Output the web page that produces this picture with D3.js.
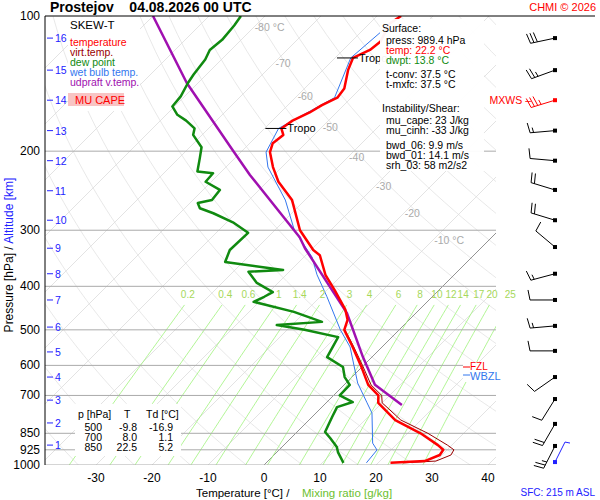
<!DOCTYPE html>
<html><head><meta charset="utf-8">
<script src="https://cdn.jsdelivr.net/npm/d3@7"></script>
<style>body{margin:0;background:#fff}text{font-family:Arial,"Liberation Sans",sans-serif}</style>
</head><body><svg id="c" width="600" height="500"></svg>
<script>
const pTicks=[100,200,300,400,500,600,700,850,925,1000];
const tTicks=[-30,-20,-10,0,10,20,30,40];
const kmLabels=[1,2,3,4,5,6,7,8,9,10,11,12,13,14,15,16];
const kmP=[903,806,717,637,560,493,429,375,329,285,245,210,180,154,132,112];
const mixRatios=[0.2,0.4,0.6,1,1.4,2,3,4,6,8,10,12,14,17,20,25];
const isoLabelT=[-80,-70,-60,-50,-40,-30,-20,-10];
const isoLabelP=[106,127,151,177,206,239,275,315];
const tempP=[989,980,950,925,903,850,794,727,700,663,600,541,500,475,451,408,377,341,332,300,257,234,217,201,192,184,178,171,164,158,152,145,132,124,119,114,104,100];
const tempT=[22.2,28.0,29.6,29.3,27.5,22.3,15.4,9.3,8.0,4.3,-0.5,-5.7,-9.8,-11,-13.2,-18.6,-23,-27.5,-29.6,-35.5,-42.3,-48,-51.6,-54.8,-55.9,-55.5,-57,-56.4,-54.8,-53.9,-52.5,-52.9,-55.5,-56.8,-55.2,-54.8,-56.4,-55.7];
const virtP=[989,980,950,925,903,850,794,727,700,663,600,541,500];
const virtT=[24.5,30.0,31.6,31.2,29.2,23.6,16.4,10.0,8.6,4.8,-0.2,-5.5,-9.7];
const dewP=[989,936,912,871,844,782,743,724,700,663,637,605,575,519,500,488,480,456,433,422,412,393,371,368,353,332,304,288,275,268,261,257,244,234,224,222,207,196,184,178,171,166,159,151,141,135,125,119,113,105,100];
const dewT=[13.8,10.9,9.8,7.0,5.0,3.6,2.7,4.6,1.1,1.0,-1.3,-3.4,-8.0,-9.6,-16.9,-22.7,-15.2,-22,-31,-30,-29.3,-33.8,-37.3,-31.4,-43.2,-44.5,-44.3,-48.9,-54,-57.3,-58.6,-56.6,-57,-61,-61.2,-64.3,-66.3,-67.9,-71.6,-72.5,-75.4,-78,-80.4,-80.7,-81.8,-82.3,-82.9,-83.8,-83.4,-83.8,-84.3];
const wbP=[989,926,894,766,727,657,546,500,422,377,344,300,257,217,201,178,152,124,100];
const wbT=[17.9,17.5,15.5,10,7.3,2.1,-5.7,-10.5,-18.8,-24.5,-28.6,-36.5,-43.5,-52.5,-55.5,-57.5,-53,-57.2,-56];
const parP=[735,663,575,493,459,329,311,226,199,141,100];
const parT=[13.9,5.5,-1.6,-8.9,-12.3,-31.4,-34.3,-54.3,-61.8,-82,-100];
const windP=[112,132,154,180,210,244,285,327,375,429,490,557,637,713,810,907];
const windDir=[258,250,253,265,275,287,287,310,255,270,265,270,235,212,210,207];
const windKt=[30,25,35,15,10,20,20,10,15,10,15,10,10,10,20,25];
const tropoP=[178,124];

const svg=d3.select("#c");
const X0=45,X1=496,Y0=16,Y1=465;
const y=d3.scaleLog().domain([1000,100]).range([Y1,Y0]);
const xT=d3.scaleLinear().domain([0,10]).range([264,320]);
const X=(T,p)=>xT(T)+(Y1-y(p));
svg.append("clipPath").attr("id","cl").append("rect").attr("x",X0).attr("y",Y0).attr("width",X1-X0).attr("height",Y1-Y0);
const g=svg.append("g").attr("clip-path","url(#cl)");
const line=d3.line().x(d=>X(d[1],d[0])).y(d=>y(d[0]));
const pr=d3.range(1000,99,-10);
for(let th=240;th<=480;th+=10){
 g.append("path").attr("d",line(pr.map(p=>[p,th*Math.pow(p/1000,0.286)-273.15]))).attr("fill","none").attr("stroke","#dedede").attr("stroke-width",0.7);
}
for(let T=-130;T<=40;T+=10){
 g.append("line").attr("x1",X(T,1000)).attr("y1",y(1000)).attr("x2",X(T,100)).attr("y2",y(100)).attr("stroke",T==0?"#777":"#dcdcdc").attr("stroke-width",0.8);
}
const mr=d3.range(1000,439,-10);
const tdOf=(w,p)=>{const e=w*p/(622+w);const l=Math.log(e/6.112);return 243.5*l/(17.67-l);};
mixRatios.forEach(w=>{
 g.append("path").attr("d",line(mr.map(p=>[p,tdOf(w,p)]))).attr("fill","none").attr("stroke","#9ef27a").attr("stroke-width",0.8);
 svg.append("text").attr("x",X(tdOf(w,430),430)).attr("y",298).attr("text-anchor","middle").attr("font-size",10).attr("fill","#a6d85a").text(w);
});
pTicks.forEach(p=>{ if(p>100) g.append("line").attr("x1",X0).attr("x2",X1).attr("y1",y(p)).attr("y2",y(p)).attr("stroke","#aaa").attr("stroke-width",1);
 svg.append("text").attr("x",40).attr("y",y(p)+4).attr("text-anchor","end").attr("font-size",12).text(p);});
isoLabelT.forEach((T,i)=>{const p=isoLabelP[i];
 g.append("text").attr("x",X(T,p)+1).attr("y",y(p)+4).attr("font-size",10.5).attr("fill","#aaa").text(T==-80||T==-10?T+" °C":T);});
svg.append("line").attr("x1",X0).attr("x2",595).attr("y1",Y0).attr("y2",Y0).attr("stroke","#000");
svg.append("line").attr("x1",X0).attr("x2",X0).attr("y1",Y0).attr("y2",Y1).attr("stroke","#000");
tTicks.forEach(T=>svg.append("text").attr("x",xT(T)).attr("y",482).attr("text-anchor","middle").attr("font-size",12).text(T));
kmLabels.forEach((k,i)=>{const yy=y(kmP[i]);
 svg.append("line").attr("x1",47).attr("x2",53).attr("y1",yy).attr("y2",yy).attr("stroke","#22f");
 svg.append("text").attr("x",55).attr("y",yy+4).attr("font-size",10.5).attr("fill","#22f").text(k);});
const z=(a,b)=>a.map((p,i)=>[p,b[i]]);
const prof=(P,T,c,w)=>g.append("path").attr("d",line(z(P,T))).attr("fill","none").attr("stroke",c).attr("stroke-width",w).attr("stroke-linejoin","round");
prof(wbP,wbT,"#3377ee",1);
prof(virtP,virtT,"#990000",1);
prof(parP,parT,"#a010b0",2.5);
prof(dewP,dewT,"#108a10",2.5);
prof(tempP,tempT,"#ff0000",2.5);
tropoP.forEach(p=>{const t=tempT[tempP.indexOf(p)];const xx=X(t,p);
 g.append("line").attr("x1",xx-16).attr("x2",xx+5).attr("y1",y(p)).attr("y2",y(p)).attr("stroke","#000");
 g.append("text").attr("x",xx+6).attr("y",y(p)+4).attr("font-size",11).text("Tropo");});
svg.append("rect").attr("x",463).attr("y",362).attr("width",36).attr("height",8).attr("fill","#fff");
svg.append("line").attr("x1",463).attr("x2",470).attr("y1",367).attr("y2",367).attr("stroke","red");
svg.append("text").attr("x",470).attr("y",370).attr("font-size",10).attr("fill","red").text("FZL");
svg.append("rect").attr("x",463).attr("y",370).attr("width",36).attr("height",12).attr("fill","#fff");
svg.append("line").attr("x1",463).attr("x2",470).attr("y1",375).attr("y2",375).attr("stroke","#3377ee");
svg.append("text").attr("x",470).attr("y",380).attr("font-size",11).attr("fill","#3377ee").text("WBZL");
svg.append("rect").attr("x",68).attr("y",17).attr("width",72).attr("height",94).attr("fill","#fff");
svg.append("text").attr("x",70).attr("y",29).attr("font-size",11.5).text("SKEW-T");
[["temperature","#ff0000"],["virt.temp.","#990000"],["dew point","#108a10"],["wet bulb temp.","#3377ee"],["udpraft v.temp.","#a010b0"]].forEach((d,i)=>
 svg.append("text").attr("x",70).attr("y",46+i*10).attr("font-size",10.5).attr("fill",d[1]).text(d[0]));
svg.append("rect").attr("x",68).attr("y",93).attr("width",56).attr("height",13).attr("fill","#f8c4c4");
svg.append("text").attr("x",75).attr("y",104).attr("font-size",11).attr("fill","red").text("MU CAPE");
svg.append("rect").attr("x",380).attr("y",19).attr("width",104).attr("height",152).attr("fill","#fff").attr("opacity",0.95);
const info=[["Surface:",382,32,"#000"],["press: 989.4 hPa",386,44,"#000"],["temp: 22.2 °C",386,54,"red"],["dwpt: 13.8 °C",386,64,"#108a10"],
["t-conv: 37.5 °C",386,78,"#000"],["t-mxfc: 37.5 °C",386,88,"#000"],["Instability/Shear:",382,112,"#000"],["mu_cape: 23 J/kg",386,124,"#000"],
["mu_cinh: -33 J/kg",386,134,"#000"],["bwd_06: 9.9 m/s",386,149,"#000"],["bwd_01: 14.1 m/s",386,159,"#000"],["srh_03: 58 m2/s2",386,169,"#000"]];
info.forEach(d=>svg.append("text").attr("x",d[1]).attr("y",d[2]).attr("font-size",10.5).attr("fill",d[3]).text(d[0]));
svg.append("rect").attr("x",75).attr("y",404).attr("width",106).attr("height",52).attr("fill","#fff");
svg.append("text").attr("x",78).attr("y",418).attr("font-size",10.5).text("p [hPa]");
svg.append("text").attr("x",124).attr("y",418).attr("font-size",10.5).text("T");
svg.append("text").attr("x",146).attr("y",418).attr("font-size",10.5).text("Td [°C]");
[[500,-9.8,-16.9],[700,8.0,1.1],[850,22.5,5.2]].forEach((r,i)=>{
 const yy=431+i*10;
 svg.append("text").attr("x",102).attr("y",yy).attr("text-anchor","end").attr("font-size",10.5).text(r[0]);
 svg.append("text").attr("x",137).attr("y",yy).attr("text-anchor","end").attr("font-size",10.5).text(r[1].toFixed(1));
 svg.append("text").attr("x",173).attr("y",yy).attr("text-anchor","end").attr("font-size",10.5).text(r[2].toFixed(1));});
svg.append("text").attr("x",50).attr("y",12).attr("font-size",14).attr("font-weight","bold").attr("xml:space","preserve").text("Prostejov    04.08.2026 00 UTC");
svg.append("text").attr("x",596).attr("y",11).attr("text-anchor","end").attr("font-size",11).attr("fill","red").text("CHMI © 2026");
svg.append("text").attr("x",196).attr("y",497).attr("font-size",11.5).text("Temperature [°C]  /");
svg.append("text").attr("x",302).attr("y",497).attr("font-size",11.5).attr("fill","#6cc030").text("Mixing ratio [g/kg]");
svg.append("text").attr("x",595).attr("y",496).attr("text-anchor","end").attr("font-size",10).attr("fill","#22f").text("SFC: 215 m ASL");
const yl=svg.append("text").attr("transform","translate(13,255) rotate(-90)").attr("text-anchor","middle").attr("font-size",12);
yl.append("tspan").text("Pressure [hPa]  /  ");yl.append("tspan").attr("fill","#22f").text("Altitude [km]");
svg.append("text").attr("x",531).attr("y",104).attr("text-anchor","end").attr("font-size",10.5).attr("fill","red").text("MXWS –");
const bx=555;
windP.forEach((p,i)=>{
 const c=i==2?"red":"#000";const yy=y(p);const a=windDir[i]*Math.PI/180;
 const L=25;const dx=Math.sin(a),dy=-Math.cos(a);
 const tx=bx+dx*L,ty=yy+dy*L;
 svg.append("line").attr("x1",bx).attr("y1",yy).attr("x2",tx).attr("y2",ty).attr("stroke",c);
 svg.append("rect").attr("x",bx-2).attr("y",yy-2).attr("width",4).attr("height",4).attr("fill",c);
 let s=windKt[i],k=0;
 const px=-dy,py=dx;
 while(s>=5){const full=s>=10;const len=full?10:5;
  const sx=tx-dx*k*3.5,sy=ty-dy*k*3.5;
  svg.append("line").attr("x1",sx).attr("y1",sy).attr("x2",sx+px*len+dx*2*len/10).attr("y2",sy+py*len+dy*2*len/10).attr("stroke",c);
  s-=full?10:5;k++;}
});
svg.append("path").attr("d",`M${bx},${y(985)}L${bx+10},${y(985)-20}L${bx+15},${y(985)-19}`).attr("fill","none").attr("stroke","#22f");
svg.append("rect").attr("x",bx-2).attr("y",y(985)-2).attr("width",4).attr("height",4).attr("fill","#22f");
</script></body></html>
